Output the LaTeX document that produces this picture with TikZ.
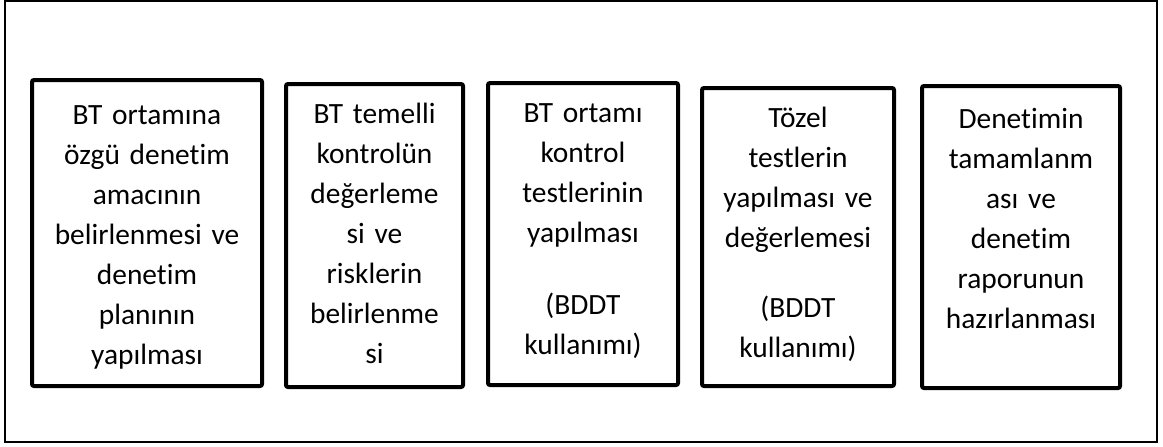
\documentclass[tikz,border=0pt]{standalone}
\usepackage{fontspec}
\setmainfont{Carlito}[Ligatures=NoCommon]
\usetikzlibrary{positioning}

\tikzset{
  stagebox/.style={draw, line width=2pt, rounded corners=1pt, inner xsep=0pt, inner ysep=0pt,
    align=center, anchor=north west, font=\fontsize{14.7}{20}\selectfont},
  frame/.style={line width=1pt}
}

\begin{document}
\begin{tikzpicture}[x=0.5pt,y=-0.5pt]
\useasboundingbox (0,0) rectangle (1163,446);
\draw[frame] (5,1) rectangle (1157,442);

\node[stagebox, text width=115pt, text height=22pt, text depth=131pt] (amac) at (30,78)
  {BT ortamına\\ özgü denetim\\ amacının\\ belirlenmesi ve\\ denetim\\ planının\\ yapılması};
\node[stagebox, text width=88.5pt, text height=19.5pt, text depth=132pt] (risk) at (284,82)
  {BT temelli\\ kontrolün\\ değerleme\\ si ve\\ risklerin\\ belirlenme\\ si};
\node[stagebox, text width=95pt, text height=19.5pt, text depth=131.5pt] (kontrol) at (486,81)
  {BT ortamı\\ kontrol\\ testlerinin\\ yapılması\\[16pt] (BDDT\\ kullanımı)};
\node[stagebox, text width=96pt, text height=19.5pt, text depth=129.5pt] (tozel) at (700,86)
  {Tözel\\ testlerin\\ yapılması ve\\ değerlemesi\\[15pt] (BDDT\\ kullanımı)};
\node[stagebox, text width=99pt, text height=21pt, text depth=130pt] (rapor) at (920,84)
  {Denetimin\\ tamamlanm\\ ası ve\\ denetim\\ raporunun\\ hazırlanması};
\end{tikzpicture}
\end{document}
